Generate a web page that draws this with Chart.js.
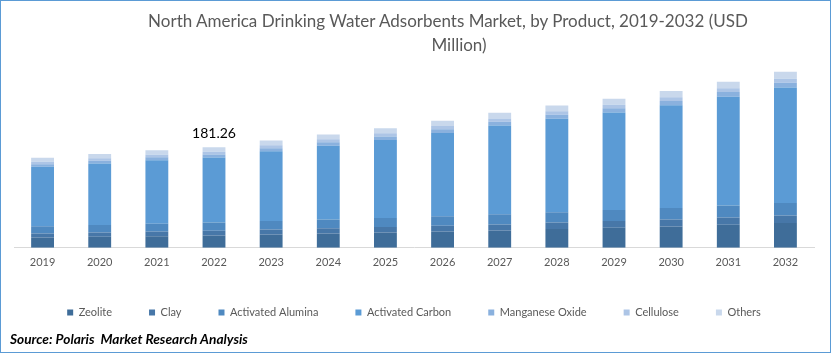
<!DOCTYPE html>
<html>
<head>
<meta charset="utf-8">
<script src="https://cdn.jsdelivr.net/npm/chart.js@4.4.1/dist/chart.umd.min.js"></script>
<style>
  html, body { margin: 0; padding: 0; background: #fff; }
  #wrap { position: relative; width: 831px; height: 353px; box-sizing: border-box; border: 1px solid #5B9BD5; overflow: hidden; }
  #chart { position: absolute; left: 0; top: 0; }
  .title { position: absolute; font-family: Lato, "Open Sans", sans-serif; font-size: 17px; color: #595959; white-space: nowrap; }
  #source { position: absolute; left: 9px; top: 329px; font-family: Lato, sans-serif; font-size: 13.7px; font-weight: bold; font-style: italic; color: #000; }
</style>
</head>
<body>
<div id="wrap">
  <canvas id="chart" width="829" height="351"></canvas>
  <div class="title" id="t1" style="left:0; width:894px; text-align:center; top:9px;">North America Drinking Water Adsorbents Market, by Product, 2019-2032 (USD</div>
  <div class="title" id="t2" style="left:0; width:916px; text-align:center; top:33px;">Million)</div>
  <div id="source">Source: Polaris&nbsp; Market Research Analysis</div>
</div>
<script>
var years = ['2019','2020','2021','2022','2023','2024','2025','2026','2027','2028','2029','2030','2031','2032'];
var zeolite = [18.5, 19.8, 21.0, 22.4, 24.0, 25.7, 27.4, 29.3, 31.3, 34.0, 36.2, 38.6, 41.5, 44.5];
var clay = [7.4, 7.8, 8.2, 8.5, 8.9, 9.4, 9.9, 10.4, 10.9, 11.4, 12.0, 12.6, 13.2, 13.9];
var activatedAlumina = [13.0, 13.5, 14.0, 14.6, 15.2, 15.9, 16.6, 17.3, 18.1, 18.9, 19.8, 20.7, 21.6, 22.6];
var activatedCarbon = [107.3, 111.0, 114.7, 117.26, 125.8, 133.2, 140.6, 149.9, 160.0, 168.4, 175.8, 185.0, 196.1, 208.0];
var manganeseOxide = [4.6, 4.9, 5.2, 5.5, 5.8, 6.1, 6.4, 6.7, 7.0, 7.3, 7.6, 7.9, 8.3, 8.7];
var cellulose = [4.5, 4.6, 4.8, 5.0, 5.2, 5.4, 5.6, 5.8, 6.0, 6.2, 6.4, 6.6, 6.8, 7.0];
var others = [7.2, 7.5, 7.8, 8.0, 8.4, 8.8, 9.2, 9.6, 10.0, 10.5, 11.0, 11.5, 12.0, 12.6];
var labelIndex = 3; // only 2022 carries a total label

var names = ['Zeolite', 'Clay', 'Activated Alumina', 'Activated Carbon', 'Manganese Oxide', 'Cellulose', 'Others'];
var series = [zeolite, clay, activatedAlumina, activatedCarbon, manganeseOxide, cellulose, others];
var colors = ['#3F6D99', '#4777A8', '#4F89C0', '#5B9BD5', '#8AB1DE', '#ADC5E6', '#C9D8EC'];

var totalLabel = {
    id: 'totalLabel',
    afterDatasetsDraw: function(chart) {
        var ctx = chart.ctx;
        var total = 0;
        series.forEach(function(s) { total += s[labelIndex]; });
        var x = chart.scales.x.getPixelForValue(labelIndex);
        var y = chart.scales.y.getPixelForValue(total);
        ctx.save();
        ctx.font = '14px Lato, sans-serif';
        ctx.fillStyle = '#000';
        ctx.textAlign = 'center';
        ctx.textBaseline = 'bottom';
        ctx.fillText(total.toFixed(2), x, y - 7);
        ctx.restore();
    }
};

var ctx = document.getElementById('chart').getContext('2d');
var chart = new Chart(ctx, {
    type: 'bar',
    data: {
        labels: years,
        datasets: series.map(function(s, i) {
            return {
                label: names[i],
                data: s,
                backgroundColor: colors[i],
                borderWidth: 0,
                barPercentage: 0.4,
                categoryPercentage: 1.0
            };
        })
    },
    options: {
        responsive: false,
        animation: false,
        layout: { padding: { left: 13, right: 16, top: 61, bottom: 24 } },
        plugins: {
            tooltip: { enabled: false },
            legend: {
                position: 'bottom',
                labels: {
                    boxWidth: 6,
                    boxHeight: 6,
                    padding: 37,
                    color: '#595959',
                    font: { family: 'Lato, sans-serif', size: 11 }
                }
            }
        },
        scales: {
            x: {
                stacked: true,
                grid: { display: false, drawTicks: false },
                border: { color: '#D9D9D9', width: 1 },
                ticks: { color: '#595959', font: { family: 'Lato, sans-serif', size: 11 }, padding: 8 },
                afterFit: function(scale) { scale.height -= 7; }
            },
            y: {
                stacked: true,
                display: false,
                min: 0,
                max: 335
            }
        }
    },
    plugins: [totalLabel]
});
</script>
</body>
</html>
